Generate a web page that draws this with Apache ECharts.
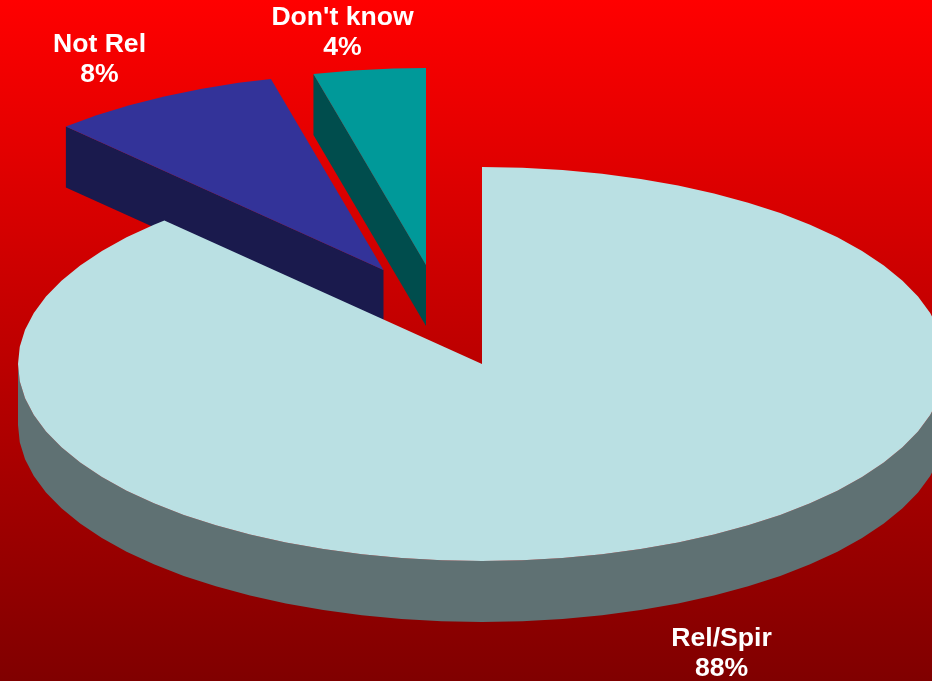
<!DOCTYPE html>
<html>
<head>
<meta charset="utf-8">
<style>html,body{margin:0;padding:0;background:#800000}#chart{width:932px;height:681px}</style>
<script src="https://cdn.jsdelivr.net/npm/echarts@6/dist/echarts.min.js"></script>
</head>
<body>
<div id="chart"></div>
<script>
// Data
const categories = ['Rel/Spir', 'Not Rel', "Don't know"];
const values = [88, 8.1, 3.9];

// Styling and layout
const topColors = ['#BAE0E3', '#333399', '#009999'];
const wallColors = ['#5F7173', '#1A1A4D', '#004D4D'];
const apexX = [482, 383.5, 426];
const apexY = [364, 270, 265];
const labelX = [721.5, 99.5, 342.5];
const labelY = [653.5, 59.5, 32.5];
const drawOrder = [3, 1, 2];
const radiusX = 464, radiusY = 197, depth = 61, stepDeg = 5;

const cumulative = values.map((_, i) => values.slice(0, i).reduce((a, b) => a + b, 0));
const total = values.reduce((a, b) => a + b, 0);

function rimPoint(cx, cy, deg, dy) {
  const t = deg * Math.PI / 180;
  return [cx + radiusX * Math.sin(t), cy - radiusY * Math.cos(t) + (dy || 0)];
}
function arc(cx, cy, from, to, dy) {
  const pts = [];
  for (let d = from; d < to; d += stepDeg) pts.push(rimPoint(cx, cy, d, dy));
  pts.push(rimPoint(cx, cy, to, dy));
  return pts;
}
function poly(points, fill, z2) {
  return { type: 'polygon', z2: z2, shape: { points: points }, style: { fill: fill, stroke: null } };
}

function renderItem(params, api) {
  const i = api.value(0);
  const start = cumulative[i] / total * 360;
  const end = (cumulative[i] + values[i]) / total * 360;
  const cx = apexX[i], cy = apexY[i], z = drawOrder[i] * 10;
  const children = [];

  // Wall: the visible rim for the big slice, the cut face for the exploded ones.
  if (i === 0) {
    const from = Math.max(start, 90), to = Math.min(end, 270);
    children.push(poly(arc(cx, cy, from, to, 0).concat(arc(cx, cy, from, to, depth).reverse()), wallColors[i], z));
  } else {
    const outer = rimPoint(cx, cy, start, 0);
    children.push(poly([outer, [cx, cy], [cx, cy + depth], [outer[0], outer[1] + depth]], wallColors[i], z));
  }
  // Top face
  children.push(poly([[cx, cy]].concat(arc(cx, cy, start, end, 0)), topColors[i], z + 1));
  // Label
  children.push({
    type: 'text', z2: 100,
    style: {
      x: labelX[i], y: labelY[i],
      text: categories[i] + '\n' + Math.round(values[i]) + '%',
      fill: '#FFFFFF', align: 'center', verticalAlign: 'middle',
      font: 'bold 26.6px "Liberation Sans", Arial, sans-serif', lineHeight: 30
    }
  });
  return { type: 'group', children: children };
}

const chart = echarts.init(document.getElementById('chart'), null, { renderer: 'canvas' });
chart.setOption({
  animation: false,
  backgroundColor: {
    type: 'linear', x: 0, y: 0, x2: 0, y2: 1,
    colorStops: [{ offset: 0, color: '#FF0000' }, { offset: 1, color: '#800000' }]
  },
  series: [{
    type: 'custom',
    coordinateSystem: 'none',
    silent: true,
    renderItem: renderItem,
    data: values.map((v, i) => [i, v])
  }]
});
</script>
</body>
</html>
